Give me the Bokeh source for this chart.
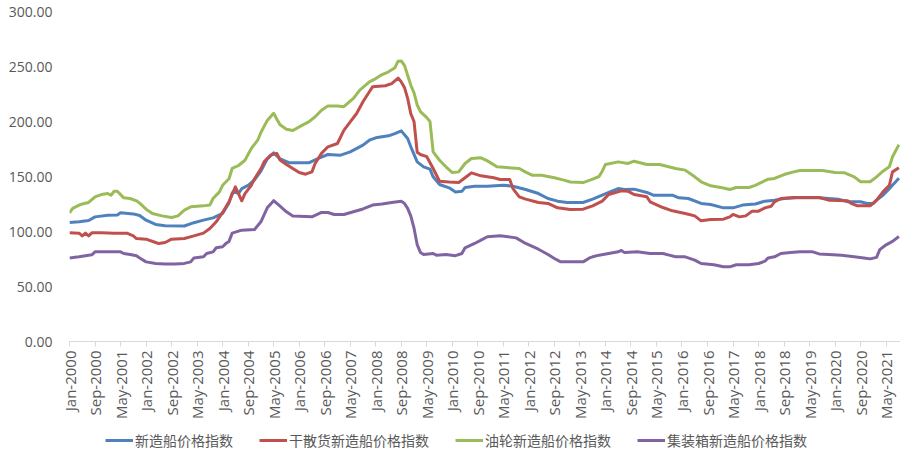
from bokeh.plotting import figure
from bokeh.layouts import column
from bokeh.models import Range1d, FixedTicker, NumeralTickFormatter, Legend, LegendItem
from bokeh.embed import file_html
from bokeh.resources import INLINE
import math

series_names = ["新造船价格指数", "干散货新造船价格指数", "油轮新造船价格指数", "集装箱新造船价格指数"]
series_colors = ["#4F81BD", "#C0504D", "#9BBB59", "#8064A2"]

# x axis: months since Jan-2000, one tick label every 8 months
tick_labels = ["Jan-2000", "Sep-2000", "May-2001", "Jan-2002", "Sep-2002", "May-2003", "Jan-2004",
               "Sep-2004", "May-2005", "Jan-2006", "Sep-2006", "May-2007", "Jan-2008", "Sep-2008",
               "May-2009", "Jan-2010", "Sep-2010", "May-2011", "Jan-2012", "Sep-2012", "May-2013",
               "Jan-2014", "Sep-2014", "May-2015", "Jan-2016", "Sep-2016", "May-2017", "Jan-2018",
               "Sep-2018", "May-2019", "Jan-2020", "Sep-2020", "May-2021"]

newbuild_month = [0,3,6,8,12,15,16,20,22,24, 27,30,36,39,42,45,48,50,51,52, 53,54,56,58,60,62,64,66,69,75,
                  78,81,85,88,92,94,96,100,102,104, 106,107,109,111,113,114,116,119,121,123,
                  124,127,131,136,139,143,147,150,153,156, 161,164,167,170,172,174,177,181,183,189,
                  191,194,198,201,205,208,211,215,218,221, 224,228,235,238,241,244,248,250,252,253,
                  255,257,259,260]
newbuild_value = [108.2,108.8,110,113.3,114.8,115,117,116,114.5,110.3, 106.4,105.2,105,108,110.3,112.4,116.4,126,135,136,
                  134.5,139,142,147,155,166,171.5,166,162.4,162.4, 166.4,170,169.4,172.4,178.5,183,185.2,187,189,191.5,
                  184.5,177,163.3,158.8,156.7,149.7,142.7,139.7,136,136.5, 140,141.2,141.2,142.1,141.2,138.2,134.5,130,127.6,126.4,
                  126.4,129.4,133,136.7,139,138.2,138.5,135.5,133,133, 130.6,130,125.5,124.5,121.5,121.5,124,125,127.6,128.5,
                  130,130.6,130.6,130,129.4,127,127,125.5,125.5,128.5, 133,139,145.2,148.5]

bulk_month = [0,3,4,5,6,7,10,14,18,20, 21,24,27,28,30,32,36,39,42,44, 46,48,50,52,54,55,57,58,60,61,
              63,65,66,68,70,72,74,76,77,79, 81,84,86,88,90,92,94,95,99,101, 103,104,105,106,107,108,109,110,112,114,
              116,119,122,124,126,129,133,135,138,139, 141,143,147,150,153,157,161,164,167,169,
              173,175,177,181,182,186,189,193,196,198, 201,205,207,208,210,212,214,216,218,220,
              221,223,227,235,238,244,245,247,251,253, 255,257,258,260]
bulk_value = [98.8,98.5,96,98.5,96,98.8,98.8,98.5,98.5,96, 93.6,93,90,89,90,93,93.6,96,98.5,102.7,
              108.8,117.3,127,140.6,127.9,134.5,142,148,157,163.3, 169.4,171,165,161,157.3,153.6,152.1,154.2,161.8,171,
              177,180,192,199.7,207.3,218,227,231.5,232.5,234.5, 239.5,236,231,221,207,200,172,170,168,157.3,
              145.7,145,144.5,148.8,153.3,150.6,148.8,147.3,147.3,139, 131.5,129.4,126.4,125.5,121.5,120,120.3,123.3,127.6,133.6,
              137,136.7,133.6,131.5,127,121.8,118.8,116.4,114.2,109.7, 110.9,111.2,113.3,115.5,113.3,114.2,118.5,118.5,121.5,123,
              127,130,130.9,130.9,128.5,127.9,125.5,123.3,123.3,128.5, 136,142,154.2,157.9]

tanker_month = [0,1,3,4,6,8,10,12,13,14, 15,17,19,21,22,24,26,29,32,34, 36,38,42,44,45,47,48,50,51,53,
                55,57,59,60,62,64,65,66,68,70, 73,75,77,79,81,84,86,87,89,91, 94,96,98,100,102,103,104,105,106,107,
                108,109,110,112,113,114,116,118,120,122, 124,126,129,131,134,141,143,145,148,152,
                155,157,161,164,166,167,168,172,175,177, 181,185,190,193,196,198,201,205,207,209,
                213,215,219,221,224,227,229,236,240,243, 246,248,251,253,255,257,258,260]
tanker_value = [117,121,124,125,126.4,131.5,133.6,134.5,133,136.6, 136.6,130.6,130,127.9,125.8,120.3,116.4,114.2,112.7,114.2,
                119.4,122.4,123.3,124,130,136,142,148,157.3,160, 164.8,175.5,183,190,201,207.5,202,197,193,191.8,
                196.7,199.7,204.3,210.3,214.2,214,213.5,216,221,228.5, 236,239,242.7,245.2,248.8,254.8,255,251,242,233,
                226,215,209,203.5,200,172.4,164.8,158.8,153.6,154.2, 161.8,166.4,167,164.2,158.8,157.3,154,151.2,151.2,148.8,
                146.7,145,144.5,147.6,150,154.8,160.9,163.3,161.8,163.9, 160.9,160.9,157.3,155.8,149.7,145.2,141.5,139.5,138.2,140,
                140,142,147.6,148.2,151.8,154.2,155.5,155.5,153.6,153.3, 149.7,145.2,145.2,149.7,154.8,158.8,167.9,179]

box_month = [0,3,5,7,8,16,17,19,21,22, 24,27,30,33,36,38,39,42,43,45, 46,48,49,50,51,54,58,60,62,64,
             66,68,70,76,79,81,83,86,89,92, 95,98,101,104,105,106,107,108,109,110, 111,114,115,118,121,123,124,127,129,131,
             135,140,143,147,150,152,154,161,163,164, 166,169,172,173,174,178,182,186,188,190,
             193,196,198,202,205,207,209,213,216,218, 219,221,223,226,229,233,235,238,242,246,
             249,251,253,254,256,258,260]
box_value = [76,77,78,78.8,81.5,81.5,80,79.1,78,76, 72.4,71,70.4,70.4,71,72.4,76,77,80,81.5,
             85.2,86.1,89,91,98.5,101.2,101.8,108.8,121.5,128, 123,117.9,114,113.3,117.3,117.3,115.5,115.5,118,120.5,
             124,125,126.4,127.6,125.5,121,114,103,88,81, 79.1,80,78.5,79,78,80,85.2,89.1,92.1,95.2,
             96.1,94.2,89.1,83.9,79.1,75.5,72.4,72.4,76,77, 78.5,80,81.5,82.8,80.8,81.5,80,80,78.5,77,
             77,74,70.9,69.8,67.9,67.9,69.8,69.8,70.9,73, 76,77,80,80.9,81.5,81.5,79.6,79.1,78.5,77,
             76,75.1,76.5,83.5,87.9,91,95.5]

y_ticks = [0, 50, 100, 150, 200, 250, 300]

p = figure(width=900, height=427, output_backend="svg", toolbar_location=None,
           x_range=Range1d(0, 260.5), y_range=Range1d(0, 300),
           min_border_left=69, min_border_right=0, min_border_top=11, min_border_bottom=86)
p.outline_line_color = None
p.xgrid.visible = False
p.ygrid.visible = False

months_list = [newbuild_month, bulk_month, tanker_month, box_month]
values_list = [newbuild_value, bulk_value, tanker_value, box_value]
for name, color, mm, vv in zip(series_names, series_colors, months_list, values_list):
    p.line(mm, vv, line_color=color, line_width=3, line_join="round")

p.xaxis.ticker = FixedTicker(ticks=[8 * i for i in range(len(tick_labels))])
p.xaxis.major_label_overrides = {8 * i: t for i, t in enumerate(tick_labels)}
p.xaxis.major_label_orientation = math.pi / 2
p.xaxis.axis_line_color = "#D9D9D9"
p.xaxis.major_tick_line_color = "#D9D9D9"
p.xaxis.major_tick_out = 5
p.xaxis.major_tick_in = 0
p.xaxis.minor_tick_line_color = None
p.xaxis.major_label_text_font = "Open Sans"
p.xaxis.major_label_text_font_size = "15px"
p.xaxis.major_label_text_color = "#595959"
p.xaxis.major_label_standoff = 4

p.yaxis.ticker = FixedTicker(ticks=y_ticks)
p.yaxis.formatter = NumeralTickFormatter(format="0.00")
p.yaxis.axis_line_color = None
p.yaxis.major_tick_line_color = None
p.yaxis.minor_tick_line_color = None
p.yaxis.major_label_text_font = "Open Sans"
p.yaxis.major_label_text_font_size = "14px"
p.yaxis.major_label_text_color = "#595959"
p.yaxis.major_label_standoff = 11

# legend strip below the chart: same series, drawn outside this strip's visible range
lg = figure(width=900, height=24, output_backend="svg", toolbar_location=None,
            x_axis_type=None, y_axis_type=None,
            x_range=Range1d(0, 260.5), y_range=Range1d(1000, 1001),
            min_border_left=0, min_border_right=0, min_border_top=0, min_border_bottom=0)
lg.outline_line_color = None
lg.xgrid.visible = False
lg.ygrid.visible = False
items = []
for name, color, mm, vv in zip(series_names, series_colors, months_list, values_list):
    r = lg.line(mm, vv, line_color=color, line_width=3)
    items.append(LegendItem(label=name, renderers=[r]))
legend = Legend(items=items, orientation="horizontal", location=(36, 1),
                label_text_font="Noto Sans CJK SC", label_text_font_size="14px",
                label_text_color="#595959", glyph_width=28, glyph_height=14,
                label_standoff=2, spacing=26, padding=0, margin=0,
                border_line_color=None, background_fill_alpha=0)
lg.add_layout(legend, "center")

layout = column(p, lg, spacing=0)
open("out.html", "w").write(file_html(layout, INLINE))
